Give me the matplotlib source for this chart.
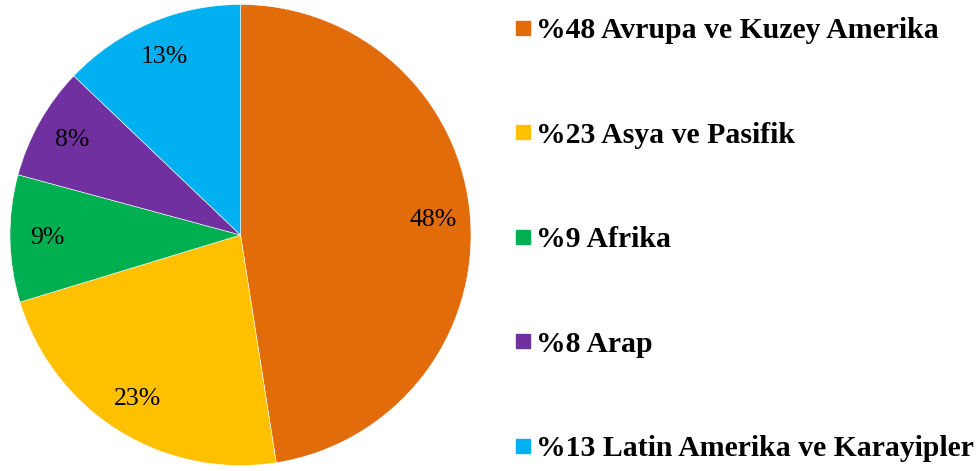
import matplotlib
matplotlib.use("Agg")
from matplotlib import pyplot as plt
from matplotlib.lines import Line2D

# data
regions = ["%48 Avrupa ve Kuzey Amerika", "%23 Asya ve Pasifik", "%9 Afrika",
           "%8 Arap", "%13 Latin Amerika ve Karayipler"]
shares = [48, 23, 9, 8, 13]
colors = ["#E36C0A", "#FFC000", "#00B050", "#7030A0", "#00B0F0"]

plt.rcParams['font.family'] = ['Liberation Serif', 'DejaVu Serif']

fig = plt.figure(figsize=(9.8, 4.71), dpi=100)
ax = fig.add_axes([10/980, 5/471, 461/980, 462/471])

wedges, texts, autotexts = ax.pie(shares, colors=colors, startangle=90, counterclock=False,
                                  autopct='%1.0f%%', pctdistance=0.84,
                                  wedgeprops=dict(edgecolor='white', linewidth=0.4),
                                  textprops=dict(fontsize=18.5, color='black'))
ax.set_xlim(-1, 1)
ax.set_ylim(-1, 1)
ax.set_aspect('equal')
ax.axis('off')

handles = [Line2D([], [], marker='s', linestyle='none', markersize=10,
                  markerfacecolor=c, markeredgecolor=c) for c in colors]
leg = fig.legend(handles, regions, loc='upper left', bbox_to_anchor=(515.6/980, 1 - 17/471),
                 frameon=False, handlelength=0.5, handletextpad=0.2,
                 labelspacing=2.61, borderpad=0, borderaxespad=0,
                 prop=dict(size=21.4, weight='bold'))

fig.savefig("out.png", dpi=100)
